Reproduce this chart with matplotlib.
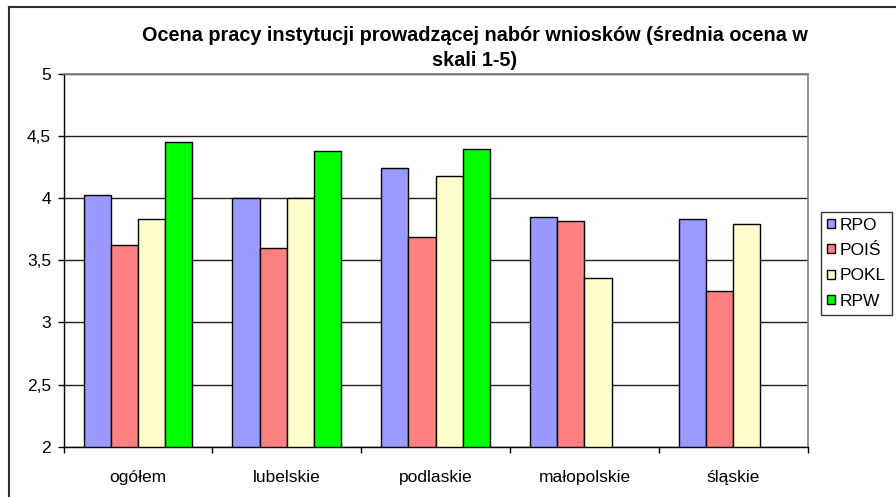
import matplotlib
matplotlib.use("Agg")
import matplotlib.pyplot as plt
from matplotlib.lines import Line2D
import numpy as np

categories = ["ogółem", "lubelskie", "podlaskie", "małopolskie", "śląskie"]
series_names = ["RPO", "POIŚ", "POKL", "RPW"]
rpo = [4.03, 4.00, 4.24, 3.85, 3.83]
pois = [3.62, 3.60, 3.69, 3.82, 3.25]
pokl = [3.83, 4.00, 4.18, 3.36, 3.79]
rpw = [4.45, 4.38, 4.40, np.nan, np.nan]
colors = ["#9999FF", "#FF8080", "#FFFFCC", "#00FF00"]
yticks = [2, 2.5, 3, 3.5, 4, 4.5, 5]
ytick_labels = ["2", "2,5", "3", "3,5", "4", "4,5", "5"]
title = "Ocena pracy instytucji prowadzącej nabór wniosków (średnia ocena w\nskali 1-5)"

plt.rcParams['font.family'] = ['Liberation Sans', 'DejaVu Sans']

W, H = 896, 497
fig = plt.figure(figsize=(W / 100, H / 100), dpi=100)
ax = fig.add_axes([63.5 / W, 1 - 446.7 / H, (807.7 - 63.5) / W, (446.7 - 74) / H])

data = [rpo, pois, pokl, rpw]
x = np.arange(len(categories))
bw = 0.73 / 4
for i, (vals, c, name) in enumerate(zip(data, colors, series_names)):
    vals = np.array(vals, dtype=float)
    ax.bar(x - 0.365 + bw * (i + 0.5), vals - 2, bottom=2, width=bw,
           color=c, edgecolor="black", linewidth=1.0, label=name, zorder=3)

fs = 12.5
ax.set_xlim(-0.5, len(categories) - 0.5)
ax.set_ylim(2, 5)
ax.set_yticks(yticks)
ax.set_yticklabels(ytick_labels, fontsize=fs)
ax.set_xticks(x)
ax.set_xticklabels(categories, fontsize=fs)
ax.tick_params(axis='x', length=0, pad=17)
ax.set_xticks(np.arange(len(categories) + 1) - 0.5, minor=True)
ax.tick_params(axis='x', which='minor', length=4, width=1, direction='out', color='black')
ax.tick_params(axis='y', length=4, width=1, direction='out', pad=5, color='black')
ax.yaxis.grid(True, color="#202020", linewidth=1.0, zorder=0)
ax.set_axisbelow(True)

for s in ["top", "right"]:
    ax.spines[s].set_color("#808080")
    ax.spines[s].set_linewidth(1.2)
for s in ["left", "bottom"]:
    ax.spines[s].set_color("black")
    ax.spines[s].set_linewidth(1.0)

fig.text(475 / W, 1 - 48 / H, title, ha="center", va="center", fontsize=14.3,
         fontweight="bold", linespacing=1.4)

leg = ax.legend(loc="upper left", bbox_to_anchor=(821 / W, 1 - 211.5 / H),
                bbox_transform=fig.transFigure, fontsize=fs, frameon=True,
                fancybox=False, handlelength=0.45, handleheight=0.45,
                handletextpad=0.3, labelspacing=0.6, borderpad=0.35,
                borderaxespad=0)
leg.get_frame().set_edgecolor("black")
leg.get_frame().set_linewidth(1.0)

# outer chart border (cropped at right/bottom)
fig.add_artist(Line2D([9 / W, 9 / W], [0, 1 - 7 / H], transform=fig.transFigure,
                      color="#303030", linewidth=1.5))
fig.add_artist(Line2D([9 / W, 1], [1 - 7 / H, 1 - 7 / H], transform=fig.transFigure,
                      color="#303030", linewidth=1.5))

fig.savefig("out.png", dpi=100)
